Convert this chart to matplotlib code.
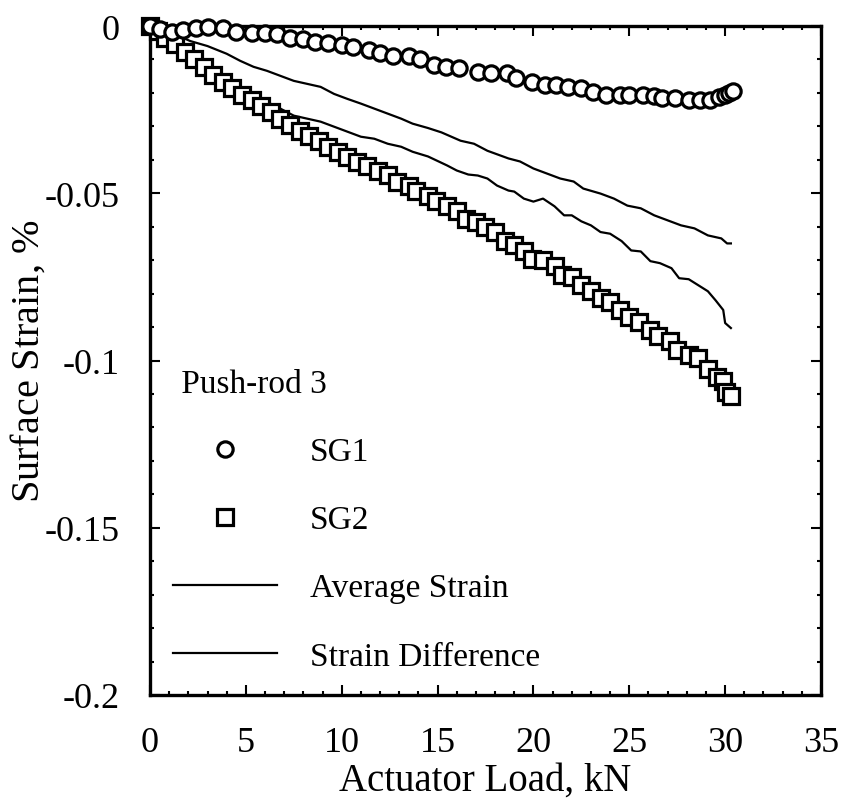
import numpy as np
import matplotlib
matplotlib.use('Agg')
import matplotlib.pyplot as plt
from matplotlib.ticker import MultipleLocator

plt.rcParams['font.family'] = ['Liberation Serif', 'DejaVu Serif']
plt.rcParams['axes.unicode_minus'] = False
plt.rcParams['mathtext.fontset'] = 'custom'
plt.rcParams['mathtext.rm'] = 'Liberation Serif'
plt.rcParams['mathtext.it'] = 'Liberation Serif:italic'

# SG1 (circles)
sg1_load = [0.0, 0.5, 1.15, 1.7, 2.4, 3.0, 3.8, 4.5, 5.3, 6.0, 6.6, 7.3, 8.0, 8.6,
            9.3, 10.0, 10.6, 11.4, 12.0, 12.7, 13.5, 14.1, 14.8, 15.45, 16.1, 17.1,
            17.8, 18.6, 19.1, 19.9, 20.6, 21.2, 21.8, 22.5, 23.1, 23.8, 24.5, 25.0,
            25.7, 26.3, 26.7, 27.4, 28.1, 28.7, 29.2, 29.7, 30.0, 30.2, 30.4]
sg1_strain = [0.0, -0.0010, -0.0018, -0.0012, -0.0005, -0.0004, -0.0005, -0.0018,
              -0.0020, -0.0021, -0.0024, -0.0036, -0.0040, -0.0048, -0.0050, -0.0057,
              -0.0063, -0.0072, -0.0080, -0.0090, -0.0090, -0.0100, -0.0116, -0.0122,
              -0.0125, -0.0137, -0.0140, -0.0141, -0.0155, -0.0167, -0.0176, -0.0177,
              -0.0182, -0.0185, -0.0197, -0.0206, -0.0206, -0.0206, -0.0206, -0.0209,
              -0.0215, -0.0215, -0.0221, -0.0221, -0.0221, -0.0212, -0.0206, -0.0200,
              -0.0195]

# SG2 (squares)
sg2_load = [0.0, 0.4, 0.8, 1.3, 1.8, 2.3, 2.8, 3.3, 3.8, 4.3, 4.8, 5.3, 5.8, 6.3, 6.8,
            7.3, 7.8, 8.3, 8.8, 9.3, 9.8, 10.3, 10.8, 11.3, 11.9, 12.4, 12.9, 13.5,
            13.9, 14.5, 14.9, 15.5, 16.0, 16.5, 17.0, 17.5, 18.0, 18.5, 19.0, 19.5,
            19.9, 20.5, 21.1, 21.5, 22.0, 22.5, 23.0, 23.5, 24.0, 24.5, 25.0, 25.5,
            26.1, 26.5, 27.1, 27.5, 28.1, 28.6, 29.1, 29.6, 29.9, 30.05, 30.3]
sg2_strain = [0.0, -0.0015, -0.0035, -0.0055, -0.0078, -0.0100, -0.0122, -0.0145,
              -0.0166, -0.0186, -0.0205, -0.0222, -0.0240, -0.0258, -0.0277, -0.0295,
              -0.0313, -0.0330, -0.0345, -0.0362, -0.0378, -0.0393, -0.0408, -0.0420,
              -0.0432, -0.0445, -0.0465, -0.0477, -0.0492, -0.0507, -0.0522, -0.0537,
              -0.0554, -0.0578, -0.0587, -0.0602, -0.0617, -0.0644, -0.0656, -0.0674,
              -0.0697, -0.0699, -0.0718, -0.0745, -0.0751, -0.0775, -0.0793, -0.0812,
              -0.0826, -0.0850, -0.0870, -0.0885, -0.0910, -0.0927, -0.0942, -0.0970,
              -0.0985, -0.0993, -0.1025, -0.1050, -0.1062, -0.1095, -0.1106]

# Average Strain (upper line)
avg_load = [0.0, 0.5, 1.0, 1.5, 2.1, 3.0, 4.0, 4.7, 5.4, 6.1, 6.8, 7.5, 8.2, 8.9, 9.6,
            10.3, 11.0, 11.7, 12.4, 13.1, 13.7, 14.5, 15.2, 16.2, 16.9, 17.6, 18.7,
            19.3, 20.0, 20.7, 21.4, 22.1, 22.6, 23.5, 24.2, 24.9, 25.6, 26.3, 27.0,
            27.7, 28.4, 29.1, 29.8, 30.1, 30.3]
avg_strain = [0.0, -0.0010, -0.0020, -0.0030, -0.0045, -0.0060, -0.0083, -0.0104,
              -0.0122, -0.0134, -0.0149, -0.0164, -0.0173, -0.0182, -0.0203, -0.0218,
              -0.0232, -0.0247, -0.0262, -0.0277, -0.0292, -0.0305, -0.0318, -0.0343,
              -0.0352, -0.0373, -0.0396, -0.0405, -0.0426, -0.0441, -0.0456, -0.0465,
              -0.0486, -0.0501, -0.0516, -0.0537, -0.0545, -0.0566, -0.0581, -0.0596,
              -0.0605, -0.0626, -0.0635, -0.0650, -0.0650]

# Strain Difference (lower line)
diff_load = [0.0, 1.0, 2.0, 3.0, 4.0, 5.2, 6.1, 6.8, 7.5, 8.2, 8.9, 9.6, 10.3, 11.0,
             11.7, 12.4, 13.1, 13.7, 14.5, 15.5, 16.0, 16.6, 17.1, 17.6, 18.1, 18.7,
             19.0, 19.5, 20.0, 20.5, 21.1, 21.6, 22.0, 22.5, 23.0, 23.5, 24.0, 24.6,
             25.1, 25.6, 26.1, 26.6, 27.2, 27.6, 28.1, 28.6, 29.1, 29.5, 29.9, 30.0,
             30.3]
diff_strain = [0.0, -0.0040, -0.0085, -0.0130, -0.0165, -0.0203, -0.0227, -0.0247,
               -0.0268, -0.0277, -0.0286, -0.0301, -0.0316, -0.0331, -0.0337, -0.0352,
               -0.0361, -0.0376, -0.0390, -0.0417, -0.0432, -0.0444, -0.0447, -0.0456,
               -0.0477, -0.0492, -0.0495, -0.0516, -0.0525, -0.0516, -0.0539, -0.0566,
               -0.0566, -0.0584, -0.0596, -0.0616, -0.0621, -0.0643, -0.0671, -0.0674,
               -0.0703, -0.0709, -0.0724, -0.0754, -0.0757, -0.0775, -0.0793, -0.0820,
               -0.0849, -0.0888, -0.0903]

y_ticks = [0, -0.05, -0.1, -0.15, -0.2]
y_tick_labels = ['0', '-0.05', '-0.1', '-0.15', '-0.2']

fig = plt.figure(figsize=(8.45, 8.03), dpi=100)
ax = fig.add_axes([150/845, 107/803, 671/845, 669/803])

ax.plot(avg_load, avg_strain, color='black', lw=1.6, label='Average Strain', zorder=2)
ax.plot(diff_load, diff_strain, color='black', lw=1.6, label='Strain Difference', zorder=2)
ax.plot(sg1_load, sg1_strain, ls='none', marker='o', ms=11, mfc='white',
        mec='black', mew=2.3, clip_on=False, zorder=4, label='SG1')
ax.plot(sg2_load, sg2_strain, ls='none', marker='s', ms=11, mfc='white',
        mec='black', mew=2.3, clip_on=False, zorder=3, label='SG2')

ax.set_xlim(0, 35)
ax.set_ylim(-0.2, 0)
ax.xaxis.set_major_locator(MultipleLocator(5))
ax.xaxis.set_minor_locator(MultipleLocator(1))
ax.set_yticks(y_ticks)
ax.set_yticklabels(y_tick_labels)
ax.yaxis.set_minor_locator(MultipleLocator(0.01))
ax.tick_params(which='both', direction='in', top=True, right=True, width=1.5,
               labelsize=26, pad=22)
ax.tick_params(which='major', length=7)
ax.tick_params(which='minor', length=3)
for s in ax.spines.values():
    s.set_linewidth(2.4)

ax.set_xlabel('Actuator Load, kN', fontsize=28, labelpad=2)
ax.set_ylabel('Surface Strain, $\\mathit{\\%}$', fontsize=29)
ax.yaxis.set_label_coords(-0.152, 0.5)

# legend order: SG1, SG2, Average, Difference
handles, labels = ax.get_legend_handles_labels()
order = [2, 3, 0, 1]
ax.legend([handles[i] for i in order], [labels[i] for i in order],
          title=' Push-rod 3', loc='lower left', frameon=False, fontsize=24,
          title_fontsize=24, handlelength=3.1, handletextpad=1.0,
          labelspacing=1.13, alignment='left', borderaxespad=0.3)

fig.savefig('out.png', dpi=100)
